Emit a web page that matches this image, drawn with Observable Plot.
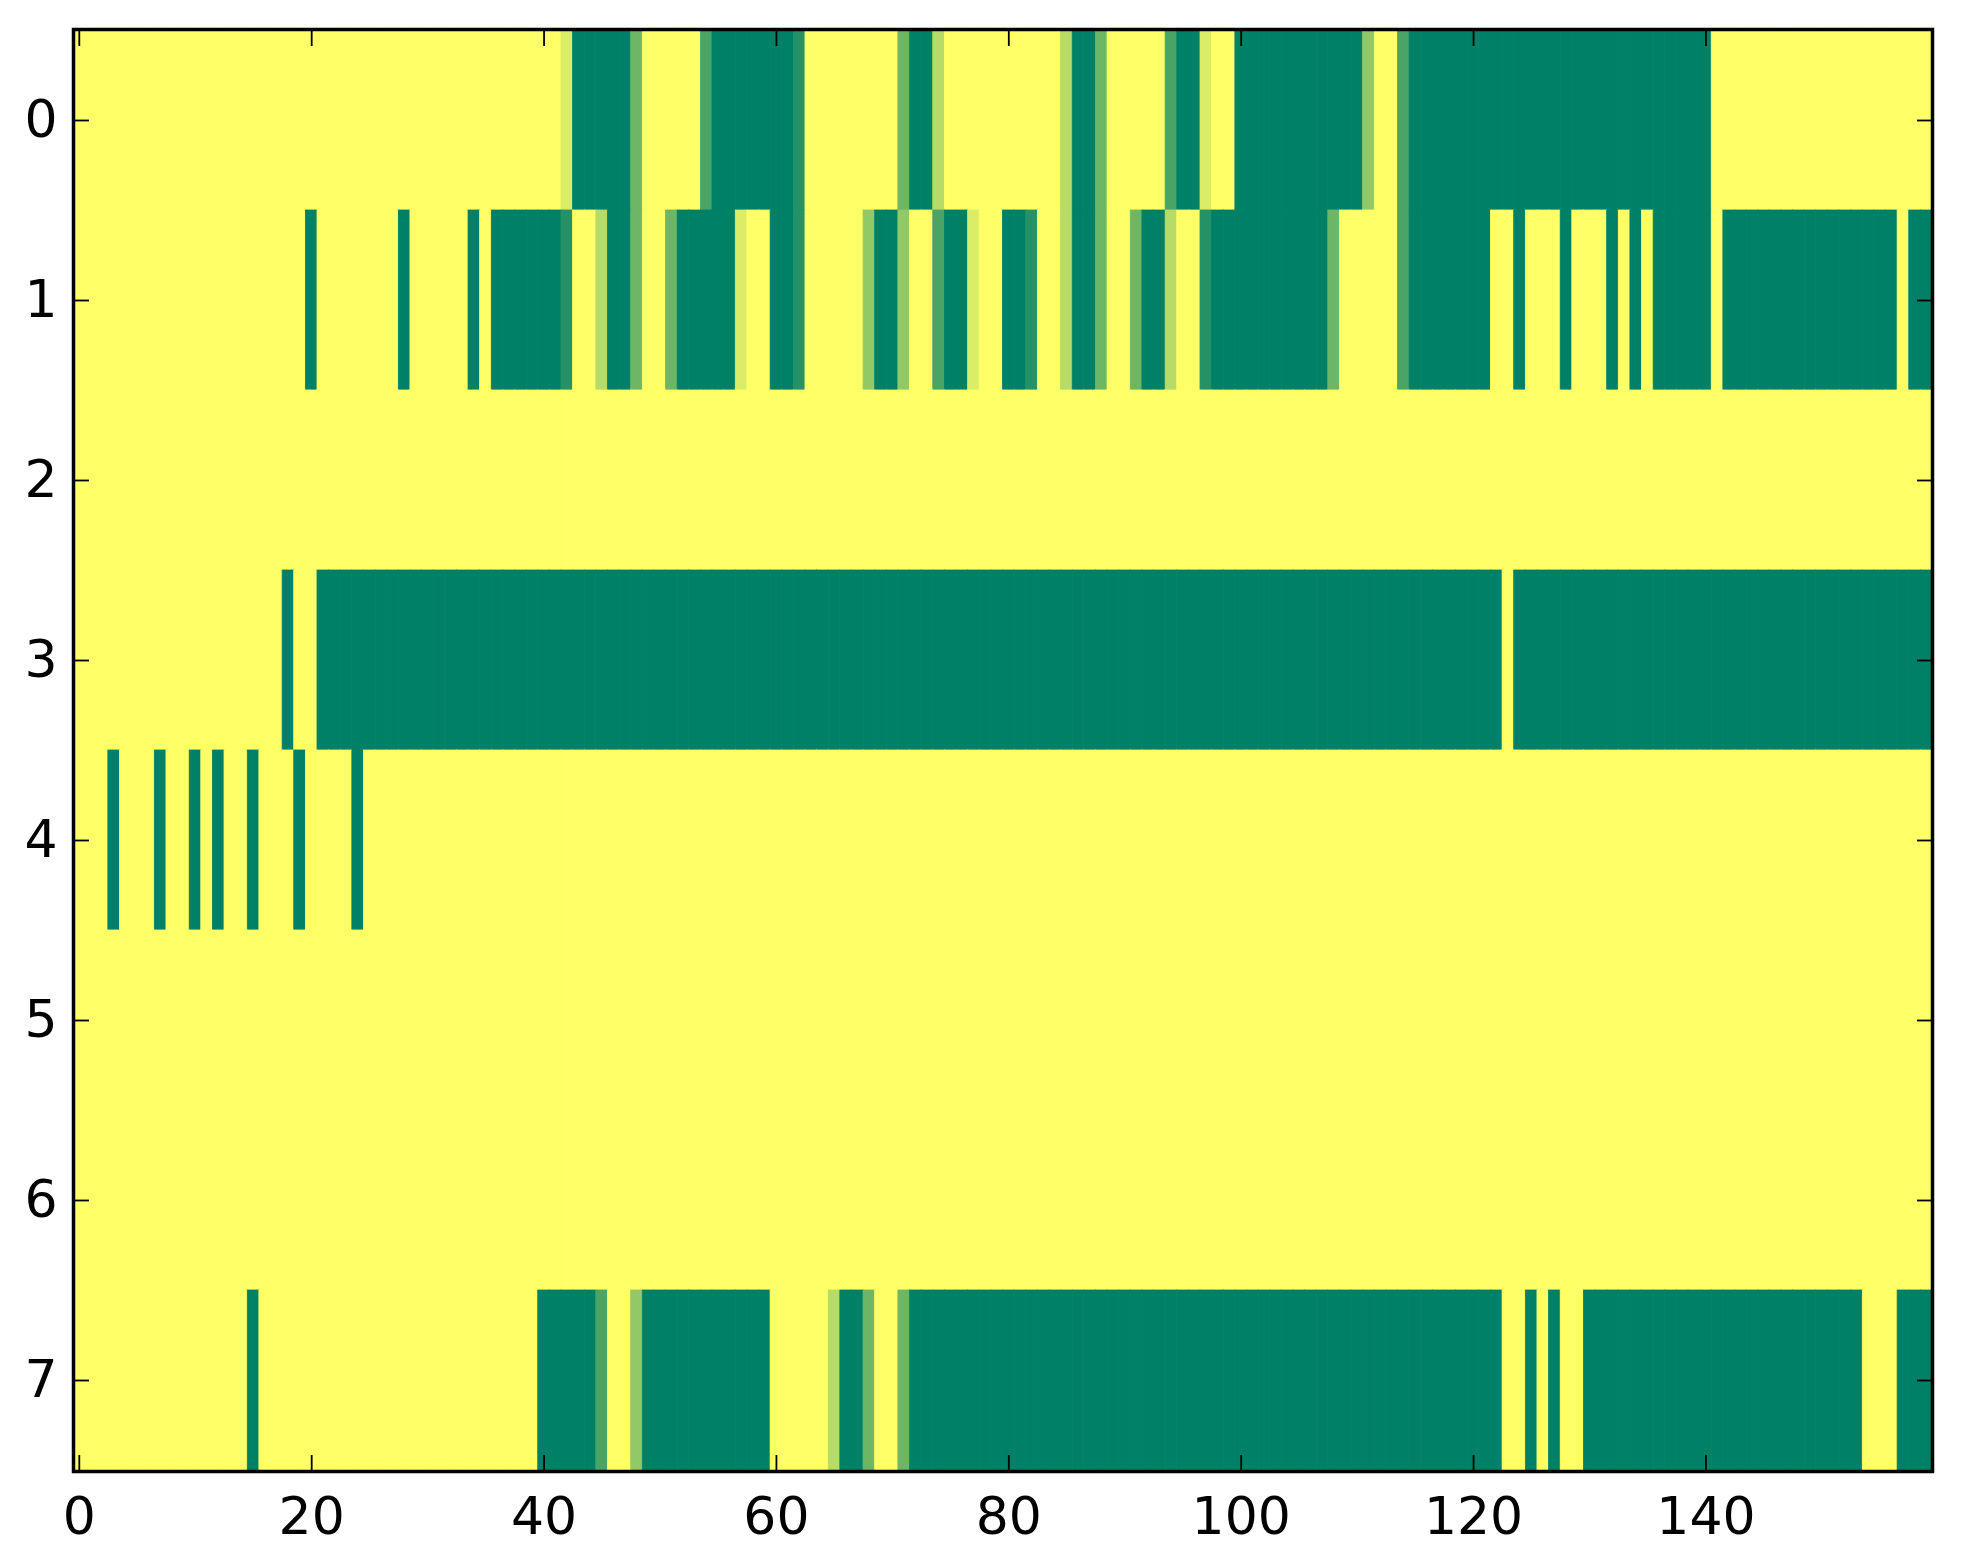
<!DOCTYPE html>
<html>
<head>
<meta charset="utf-8">
<script src="https://cdn.jsdelivr.net/npm/d3@7"></script>
<script src="https://cdn.jsdelivr.net/npm/@observablehq/plot@0.6"></script>
<style>
html, body { margin: 0; padding: 0; background: #fff; overflow: hidden; }
</style>
</head>
<body>
<div id="chart"></div>
<script>
const xTicks = [0, 20, 40, 60, 80, 100, 120, 140];
const yTicks = [0, 1, 2, 3, 4, 5, 6, 7];

// levels 0..7 (0 = yellow, 7 = green)
const row0 = [
 0,0,0,0,0,0,0,0,0,0,0,0,0,0,0,0,0,0,0,0,
 0,0,0,0,0,0,0,0,0,0,0,0,0,0,0,0,0,0,0,0,
 0,0,1,7,7,7,7,7,4,0,0,0,0,0,5,7,7,7,7,7,
 7,7,6,0,0,0,0,0,0,0,0,4,7,7,2,0,0,0,0,0,
 0,0,0,0,0,2,7,7,4,0,0,0,0,0,5,7,7,1,0,0,
 7,7,7,7,7,7,7,7,7,7,7,3,0,0,5,7,7,7,7,7,
 7,7,7,7,7,7,7,7,7,7,7,7,7,7,7,7,7,7,7,7,
 7,0,0,0,0,0,0,0,0,0,0,0,0,0,0,0,0,0,0,0
];
const row1 = [
 0,0,0,0,0,0,0,0,0,0,0,0,0,0,0,0,0,0,0,0,
 7,0,0,0,0,0,0,0,7,0,0,0,0,0,7,0,7,7,7,7,
 7,7,6,0,0,2,7,7,4,0,0,4,7,7,7,7,7,1,0,0,
 7,7,6,0,0,0,0,0,3,7,7,3,0,0,5,7,7,1,0,0,
 7,7,6,0,0,2,7,7,4,0,0,4,7,7,2,0,0,6,7,7,
 7,7,7,7,7,7,7,7,4,0,0,0,0,0,5,7,7,7,7,7,
 7,7,0,0,7,0,0,0,7,0,0,0,7,0,7,0,7,7,7,7,
 7,0,7,7,7,7,7,7,7,7,7,7,7,7,7,7,7,0,7,7
];
const row2 = [
 0,0,0,0,0,0,0,0,0,0,0,0,0,0,0,0,0,0,0,0,
 0,0,0,0,0,0,0,0,0,0,0,0,0,0,0,0,0,0,0,0,
 0,0,0,0,0,0,0,0,0,0,0,0,0,0,0,0,0,0,0,0,
 0,0,0,0,0,0,0,0,0,0,0,0,0,0,0,0,0,0,0,0,
 0,0,0,0,0,0,0,0,0,0,0,0,0,0,0,0,0,0,0,0,
 0,0,0,0,0,0,0,0,0,0,0,0,0,0,0,0,0,0,0,0,
 0,0,0,0,0,0,0,0,0,0,0,0,0,0,0,0,0,0,0,0,
 0,0,0,0,0,0,0,0,0,0,0,0,0,0,0,0,0,0,0,0
];
const row3 = [
 0,0,0,0,0,0,0,0,0,0,0,0,0,0,0,0,0,0,7,0,
 0,7,7,7,7,7,7,7,7,7,7,7,7,7,7,7,7,7,7,7,
 7,7,7,7,7,7,7,7,7,7,7,7,7,7,7,7,7,7,7,7,
 7,7,7,7,7,7,7,7,7,7,7,7,7,7,7,7,7,7,7,7,
 7,7,7,7,7,7,7,7,7,7,7,7,7,7,7,7,7,7,7,7,
 7,7,7,7,7,7,7,7,7,7,7,7,7,7,7,7,7,7,7,7,
 7,7,7,0,7,7,7,7,7,7,7,7,7,7,7,7,7,7,7,7,
 7,7,7,7,7,7,7,7,7,7,7,7,7,7,7,7,7,7,7,7
];
const row4 = [
 0,0,0,7,0,0,0,7,0,0,7,0,7,0,0,7,0,0,0,7,
 0,0,0,0,7,0,0,0,0,0,0,0,0,0,0,0,0,0,0,0,
 0,0,0,0,0,0,0,0,0,0,0,0,0,0,0,0,0,0,0,0,
 0,0,0,0,0,0,0,0,0,0,0,0,0,0,0,0,0,0,0,0,
 0,0,0,0,0,0,0,0,0,0,0,0,0,0,0,0,0,0,0,0,
 0,0,0,0,0,0,0,0,0,0,0,0,0,0,0,0,0,0,0,0,
 0,0,0,0,0,0,0,0,0,0,0,0,0,0,0,0,0,0,0,0,
 0,0,0,0,0,0,0,0,0,0,0,0,0,0,0,0,0,0,0,0
];
const row5 = [
 0,0,0,0,0,0,0,0,0,0,0,0,0,0,0,0,0,0,0,0,
 0,0,0,0,0,0,0,0,0,0,0,0,0,0,0,0,0,0,0,0,
 0,0,0,0,0,0,0,0,0,0,0,0,0,0,0,0,0,0,0,0,
 0,0,0,0,0,0,0,0,0,0,0,0,0,0,0,0,0,0,0,0,
 0,0,0,0,0,0,0,0,0,0,0,0,0,0,0,0,0,0,0,0,
 0,0,0,0,0,0,0,0,0,0,0,0,0,0,0,0,0,0,0,0,
 0,0,0,0,0,0,0,0,0,0,0,0,0,0,0,0,0,0,0,0,
 0,0,0,0,0,0,0,0,0,0,0,0,0,0,0,0,0,0,0,0
];
const row6 = [
 0,0,0,0,0,0,0,0,0,0,0,0,0,0,0,0,0,0,0,0,
 0,0,0,0,0,0,0,0,0,0,0,0,0,0,0,0,0,0,0,0,
 0,0,0,0,0,0,0,0,0,0,0,0,0,0,0,0,0,0,0,0,
 0,0,0,0,0,0,0,0,0,0,0,0,0,0,0,0,0,0,0,0,
 0,0,0,0,0,0,0,0,0,0,0,0,0,0,0,0,0,0,0,0,
 0,0,0,0,0,0,0,0,0,0,0,0,0,0,0,0,0,0,0,0,
 0,0,0,0,0,0,0,0,0,0,0,0,0,0,0,0,0,0,0,0,
 0,0,0,0,0,0,0,0,0,0,0,0,0,0,0,0,0,0,0,0
];
const row7 = [
 0,0,0,0,0,0,0,0,0,0,0,0,0,0,0,7,0,0,0,0,
 0,0,0,0,0,0,0,0,0,0,0,0,0,0,0,0,0,0,0,0,
 7,7,7,7,7,5,0,0,3,7,7,7,7,7,7,7,7,7,7,7,
 0,0,0,0,0,2,7,7,4,0,0,4,7,7,7,7,7,7,7,7,
 7,7,7,7,7,7,7,7,7,7,7,7,7,7,7,7,7,7,7,7,
 7,7,7,7,7,7,7,7,7,7,7,7,7,7,7,7,7,7,7,7,
 7,7,7,0,0,7,0,7,0,0,7,7,7,7,7,7,7,7,7,7,
 7,7,7,7,7,7,7,7,7,7,7,7,7,7,0,0,0,7,7,7
];

const rows = [row0, row1, row2, row3, row4, row5, row6, row7];
const columns = row0.map((_, i) => i);
const cells = rows.flatMap((vals, r) => vals.map((v, c) => ({row: r, col: c, level: v})));

const tickStyle = {strokeWidth: 1.8, stroke: "black", label: null, tickFormat: () => ""};

const chart = Plot.plot({
  width: 1963,
  height: 1564,
  marginLeft: 73,
  marginRight: 31,
  marginTop: 29,
  marginBottom: 93,
  style: {fontFamily: "DejaVu Sans", fontSize: "52px", background: "white", color: "black"},
  x: {type: "band", domain: columns, padding: 0, axis: null},
  y: {type: "band", domain: yTicks, padding: 0, axis: null},
  color: {type: "linear", domain: [0, 7], range: ["#ffff66", "#008066"], interpolate: "rgb"},
  marks: [
    Plot.cell(cells, {x: "col", y: "row", fill: "level", stroke: "level", strokeWidth: 0.8}),
    Plot.frame({stroke: "black", strokeWidth: 3.5}),
    Plot.axisX({anchor: "bottom", ticks: xTicks, tickSize: -16, ...tickStyle}),
    Plot.axisX({anchor: "top", ticks: xTicks, tickSize: -16, ...tickStyle}),
    Plot.axisY({anchor: "left", ticks: yTicks, tickSize: -16, ...tickStyle}),
    Plot.axisY({anchor: "right", ticks: yTicks, tickSize: -16, ...tickStyle}),
    Plot.axisX({anchor: "bottom", ticks: xTicks, tickSize: 0, tickPadding: 26, fontSize: 52, fill: "black", label: null}),
    Plot.axisY({anchor: "left", ticks: yTicks, tickSize: 0, tickPadding: 16, fontSize: 52, fill: "black", label: null})
  ]
});
document.getElementById("chart").appendChild(chart);
</script>
</body>
</html>
